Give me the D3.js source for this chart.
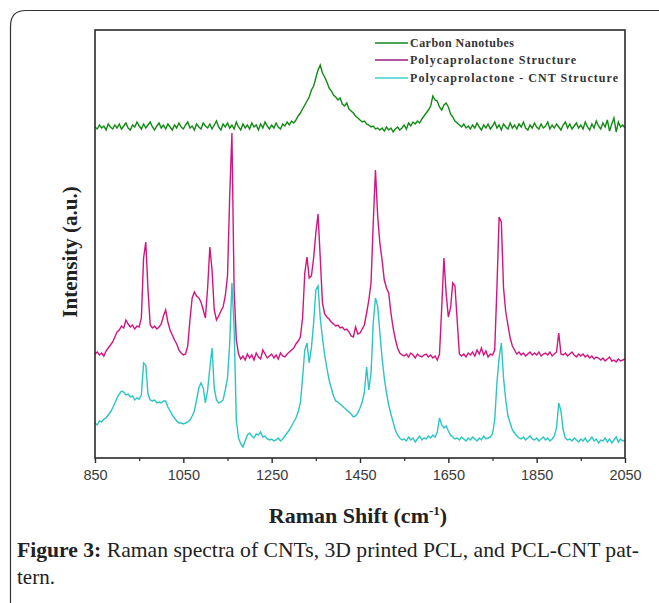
<!DOCTYPE html>
<html>
<head>
<meta charset="utf-8">
<script src="https://cdn.jsdelivr.net/npm/d3@7"></script>
<style>
  html, body { margin: 0; padding: 0; background: #fff; }
  svg { display: block; }
</style>
</head>
<body>
<svg id="chart" width="659" height="603"></svg>
<script>
// ---------- data ----------
// Raman shift sampling grid (cm^-1), 5 cm^-1 step from 850 to 2050
const shift = d3.range(850, 2051, 5);

const seriesNames = ["Carbon Nanotubes", "Polycaprolactone Structure", "Polycaprolactone - CNT Structure"];

// Intensity (a.u., offset-stacked as in the figure)
const cnt = [
  331,329,333,330,332,328,334,331,329,333,
  330,334,329,332,335,330,328,333,331,336,
  332,329,334,330,333,336,331,328,332,335,
  330,333,329,334,331,328,333,330,335,331,
  329,333,336,330,332,328,334,331,329,335,
  332,330,334,329,333,337,331,328,334,331,
  335,330,333,329,336,331,328,334,330,333,
  329,335,331,333,328,334,330,336,332,329,
  333,330,335,331,329,334,332,336,333,337,
  335,338,342,345,349,353,357,361,368,372,
  380,388,393,385,381,376,370,367,363,361,
  358,360,354,352,355,349,347,345,342,340,
  338,336,337,334,333,331,332,329,330,328,
  330,327,331,328,330,326,329,331,328,330,
  333,329,335,332,336,334,337,335,339,342,
  345,348,352,362,358,357,351,348,353,355,
  351,344,341,337,335,333,331,334,330,332,
  329,333,330,335,331,328,333,330,334,329,
  332,336,330,333,328,334,331,329,335,330,
  333,329,334,331,336,330,328,333,330,335,
  331,329,334,330,332,336,329,333,330,334,
  331,328,333,336,330,334,329,332,335,330,
  333,329,336,331,328,334,330,337,332,329,
  335,331,338,327,334,340,326,336,331,333,
  330
];

const pcl = [
  104,106,103,105,102,107,110,113,116,121,
  126,128,132,130,138,134,131,133,129,132,
  131,140,200,216,168,133,130,132,129,131,
  134,142,148,136,128,123,118,114,108,105,
  103,104,112,138,160,166,162,160,156,148,
  140,170,211,188,148,138,142,147,151,162,
  182,262,325,168,118,104,99,102,98,104,
  100,103,98,105,101,99,108,104,100,102,
  104,100,103,99,105,102,101,104,106,108,
  110,114,117,121,140,185,201,180,182,200,
  225,244,200,155,144,141,139,136,134,132,
  133,130,131,128,129,126,122,121,131,124,
  125,129,133,145,158,175,235,288,242,215,
  198,178,170,165,145,130,119,110,105,103,
  102,104,101,105,103,100,104,102,101,103,
  104,101,103,100,102,98,104,150,200,165,
  141,150,175,172,138,104,102,104,101,105,
  103,106,102,108,104,110,103,107,101,104,
  103,108,170,241,236,170,146,133,120,112,
  108,104,106,103,105,102,104,106,103,105,
  103,106,102,104,105,103,106,102,104,106,
  125,104,103,105,102,104,106,103,101,104,
  102,104,101,103,100,102,99,101,100,98,
  100,97,99,101,97,98,96,99,97,98,
  99
];

const pclCnt = [
  35,33,37,36,39,40,43,46,50,55,
  60,64,67,66,63,64,61,62,58,60,
  59,63,95,93,64,58,57,58,55,56,
  55,57,57,51,47,43,40,37,35,35,
  34,35,36,38,42,47,58,70,75,70,
  55,68,90,110,70,58,55,56,58,68,
  80,115,175,130,38,20,14,11,17,23,
  25,22,20,24,23,26,21,22,19,18,
  19,17,18,20,17,19,22,25,28,32,
  36,40,46,55,80,108,115,95,110,135,
  168,172,140,120,103,90,78,70,62,57,
  56,54,52,50,48,46,44,41,42,45,
  50,56,66,91,68,85,135,160,152,125,
  100,80,65,53,44,36,28,23,20,18,
  19,17,21,18,20,16,19,22,18,20,
  19,22,20,23,21,26,40,33,30,32,
  27,23,21,19,20,18,21,19,17,20,
  18,21,19,17,20,18,22,19,20,21,
  24,38,75,100,115,80,58,42,35,28,
  25,22,20,19,21,18,20,22,19,18,
  20,17,19,21,18,20,17,19,22,30,
  55,47,28,20,18,19,17,20,18,16,
  19,17,20,16,18,21,17,19,15,18,
  17,20,16,19,15,18,21,16,19,17,
  18
];

const majorTicks = [850, 1050, 1250, 1450, 1650, 1850, 2050];
const minorTicks = [950, 1150, 1350, 1550, 1750, 1950];

// ---------- layout ----------
const svg = d3.select("#chart");
const W = 659, H = 603;
const plot = { left: 95, right: 625, top: 30, bottom: 458 };
const colors = ["#118a14", "#d4147e", "#2cc4c4"];
const legendColors = ["#13891a", "#9a1f86", "#3fd2d2"];

svg.append("rect").attr("width", W).attr("height", H).attr("fill", "#fff");

// card border (top + left, rounded corner)
svg.append("path")
  .attr("d", `M10.5,${H} L10.5,26 Q10.5,10.5 26,10.5 L${W},10.5`)
  .attr("fill", "none").attr("stroke", "#333").attr("stroke-width", 1.2);

const x = d3.scaleLinear().domain([850, 2050]).range([plot.left, plot.right]);
const y = d3.scaleLinear().domain([0, 428]).range([plot.bottom, plot.top]);

// series
const line = d3.line()
  .x((d, i) => x(shift[i]))
  .y(d => y(d));

const seriesData = [cnt, pcl, pclCnt];
[2, 1, 0].forEach(k => {
  svg.append("path")
    .datum(seriesData[k])
    .attr("d", line)
    .attr("fill", "none")
    .attr("stroke", colors[k])
    .attr("stroke-width", 1.4)
    .attr("stroke-linejoin", "miter");
});

// plot frame
svg.append("rect")
  .attr("x", plot.left).attr("y", plot.top)
  .attr("width", plot.right - plot.left).attr("height", plot.bottom - plot.top)
  .attr("fill", "none").attr("stroke", "#2a2a2a").attr("stroke-width", 1.6);

// x axis
const xAxis = d3.axisBottom(x).tickValues(majorTicks).tickSize(5).tickPadding(7).tickFormat(d3.format("d"));
const gx = svg.append("g").attr("transform", `translate(0,${plot.bottom})`).call(xAxis);
gx.select(".domain").remove();
gx.selectAll(".tick line").attr("stroke", "#2a2a2a").attr("stroke-width", 1.4);
gx.selectAll(".tick text")
  .attr("font-family", "'Liberation Sans', Arial, sans-serif")
  .attr("font-size", 14.5).attr("fill", "#3a3a3a");

const gxm = svg.append("g").attr("transform", `translate(0,${plot.bottom})`)
  .call(d3.axisBottom(x).tickValues(minorTicks).tickSize(3).tickFormat(""));
gxm.select(".domain").remove();
gxm.selectAll(".tick line").attr("stroke", "#2a2a2a").attr("stroke-width", 1.2);

// axis titles
const xt = svg.append("text")
  .attr("x", (plot.left + plot.right) / 2 - 2).attr("y", 523)
  .attr("text-anchor", "middle")
  .attr("font-family", "'Liberation Serif', 'Times New Roman', serif")
  .attr("font-weight", "bold").attr("font-size", 22).attr("fill", "#222");
xt.append("tspan").text("Raman Shift (cm");
xt.append("tspan").attr("dy", -8).attr("font-size", 13).text("-1");
xt.append("tspan").attr("dy", 8).text(")");

svg.append("text")
  .attr("transform", `translate(77,252) rotate(-90)`)
  .attr("text-anchor", "middle")
  .attr("font-family", "'Liberation Serif', 'Times New Roman', serif")
  .attr("font-weight", "bold").attr("font-size", 21).attr("fill", "#222")
  .text("Intensity (a.u.)");

// legend
const legendY = [43, 60, 78];
const legendLen = [104, 166, 208];
seriesNames.forEach((name, k) => {
  svg.append("line")
    .attr("x1", 375).attr("x2", 408)
    .attr("y1", legendY[k]).attr("y2", legendY[k])
    .attr("stroke", legendColors[k]).attr("stroke-width", 1.6);
  svg.append("text")
    .attr("x", 410).attr("y", legendY[k] + 4)
    .attr("font-family", "'Liberation Serif', 'Times New Roman', serif")
    .attr("font-weight", "bold").attr("font-size", 12).attr("fill", "#333")
    .attr("textLength", legendLen[k]).attr("lengthAdjust", "spacing")
    .text(name);
});

// caption
const cap = svg.append("text")
  .attr("x", 17).attr("y", 557)
  .attr("font-family", "'Liberation Serif', 'Times New Roman', serif")
  .attr("font-size", 21).attr("fill", "#222")
  .attr("textLength", 622).attr("lengthAdjust", "spacingAndGlyphs");
cap.append("tspan").attr("font-weight", "bold").text("Figure 3:");
cap.append("tspan").text(" Raman spectra of CNTs, 3D printed PCL, and PCL-CNT pat-");

svg.append("text")
  .attr("x", 17).attr("y", 584)
  .attr("font-family", "'Liberation Serif', 'Times New Roman', serif")
  .attr("font-size", 21).attr("fill", "#222")
  .text("tern.");
</script>
</body>
</html>
